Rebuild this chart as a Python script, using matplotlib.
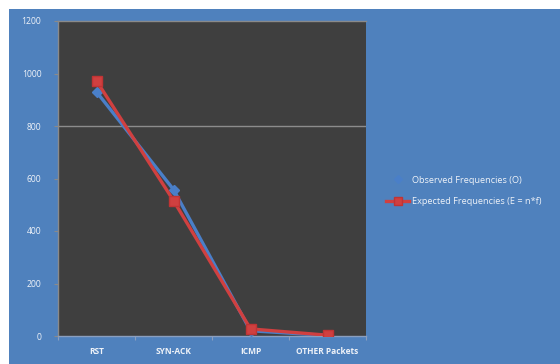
import matplotlib
matplotlib.use("Agg")
import matplotlib.pyplot as plt
from matplotlib.patches import Rectangle
from matplotlib.lines import Line2D

categories = ["RST", "SYN-ACK", "ICMP", "OTHER Packets"]
observed = [930, 558, 20, 2]
expected = [972, 516, 27, 3]
y_ticks = [0, 200, 400, 600, 800, 1000, 1200]
label_obs = "Observed Frequencies (O)"
label_exp = "Expected Frequencies (E = n*f)"

W, H = 560, 364
BLUE_BG = "#4f81bd"
PLOT_BG = "#3f3f3f"
OBS_C = "#4a7fc8"
EXP_C = "#d04040"
TXT = "#eef2f8"

plt.rcParams["font.family"] = ["Open Sans", "DejaVu Sans"]

fig = plt.figure(figsize=(W / 100, H / 100), dpi=100, facecolor="white")
fig.patches.append(Rectangle((9 / W, 0), 1 - 9 / W, 1 - 9 / H,
                             transform=fig.transFigure, facecolor=BLUE_BG,
                             edgecolor="none", zorder=-10))

ax = fig.add_axes([58 / W, (H - 336) / H, 308 / W, 315 / H])
ax.set_facecolor(PLOT_BG)

x = list(range(len(categories)))
ax.plot(x, observed, color=OBS_C, lw=2.4, marker="D", ms=5,
        mfc=OBS_C, mec=OBS_C, zorder=3)
ax.plot(x, expected, color=EXP_C, lw=2.4, marker="s", ms=6.5,
        mfc=EXP_C, mec="#c03434", zorder=4)

ax.set_xlim(-0.5, len(categories) - 0.5)
ax.set_ylim(0, 1200)
ax.set_yticks(y_ticks)
ax.set_yticklabels([str(v) for v in y_ticks], color=TXT, fontsize=6.2)
ax.set_xticks(x)
ax.set_xticklabels(categories, color=TXT, fontsize=6, fontweight="bold")
ax.set_xticks([i - 0.5 for i in range(len(categories) + 1)], minor=True)
ax.tick_params(axis="x", which="major", length=0, pad=8)
ax.tick_params(axis="x", which="minor", length=3, color="#8a9fbf", width=0.8)
ax.tick_params(axis="y", length=3, color="#8a8a8a", width=0.8, pad=9)

ax.axhline(800, color="#8c8c8c", lw=1, zorder=1)
for side in ["top", "left"]:
    ax.spines[side].set_color("#8a8a8a")
    ax.spines[side].set_linewidth(1)
ax.spines["right"].set_visible(False)
ax.spines["bottom"].set_color("#8a9fbf")
ax.spines["bottom"].set_linewidth(1)

handles = [
    Line2D([0], [0], color=BLUE_BG, lw=2.4, marker="D", ms=4.5,
           mfc=OBS_C, mec=OBS_C),
    Line2D([0], [0], color=EXP_C, lw=2.4, marker="s", ms=6,
           mfc=EXP_C, mec="#c03434"),
]
leg = fig.legend(handles, [label_obs, label_exp], loc="center left",
                 bbox_to_anchor=(378 / W, 1 - 191 / H), frameon=False,
                 fontsize=6.6, handlelength=2.5, handletextpad=0.3,
                 labelspacing=1.4)
for t in leg.get_texts():
    t.set_color(TXT)

fig.savefig("out.png", dpi=100, facecolor=fig.get_facecolor())
